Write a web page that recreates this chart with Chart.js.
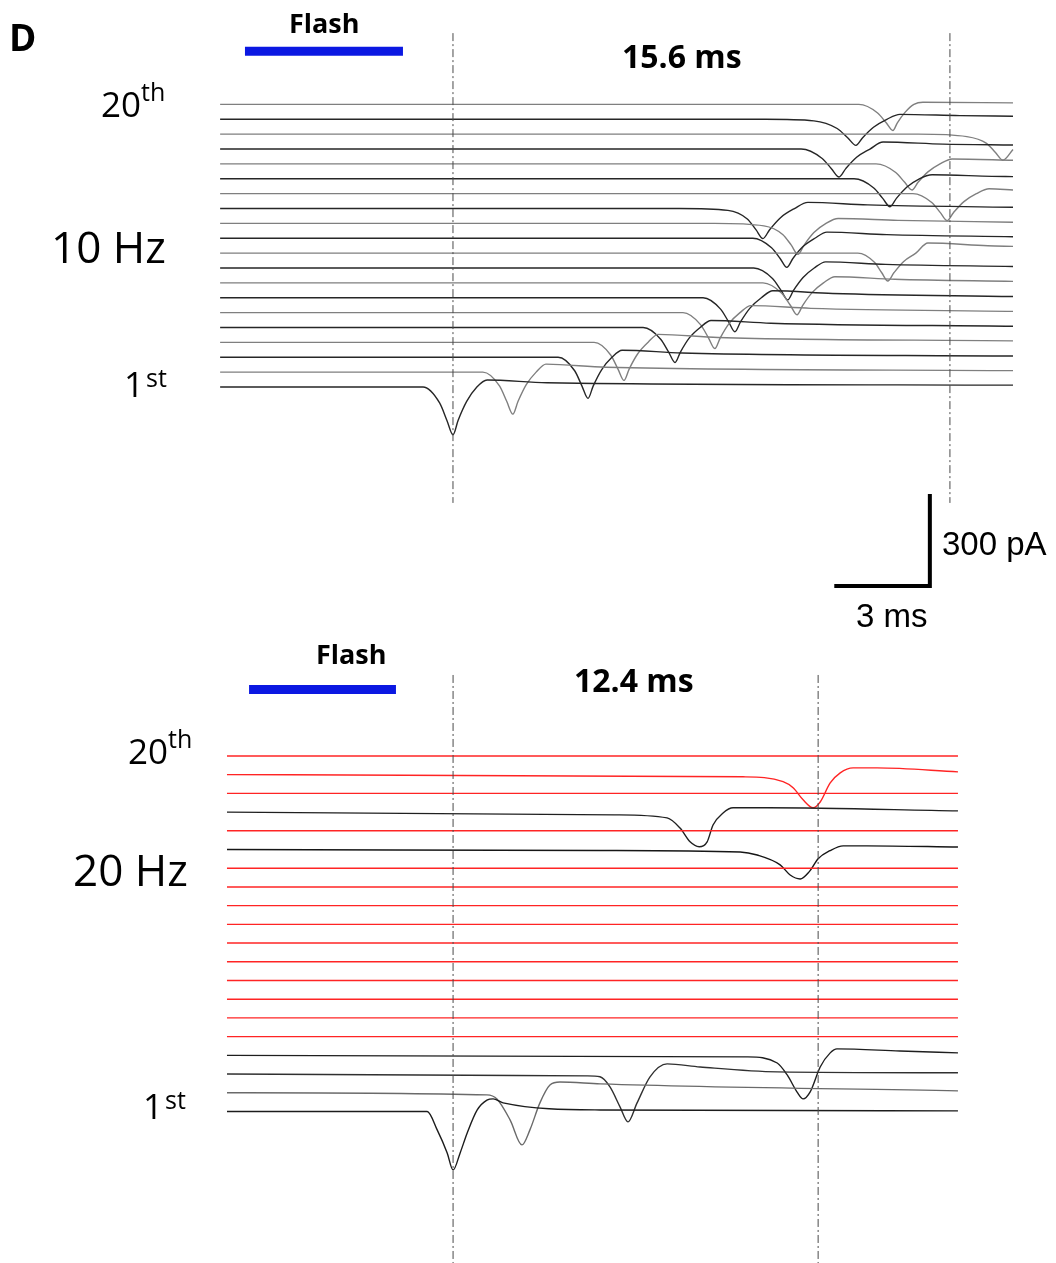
<!DOCTYPE html>
<html>
<head>
<meta charset="utf-8">
<title>Flash-evoked responses, 10 Hz and 20 Hz trains</title>
<script src="https://cdn.jsdelivr.net/npm/chart.js@4/dist/chart.umd.min.js"></script>
<style>
  html, body { margin: 0; padding: 0; background: #fff; }
  #page { position: relative; width: 1056px; height: 1263px; overflow: hidden; background: #fff; }
  #page canvas { position: absolute; left: 0; }
  .lbl { position: absolute; white-space: nowrap; line-height: 1; color: #000; }
</style>
</head>
<body>
<div id="page">
  <canvas id="train10" width="1056" height="640" style="top:0;width:1056px;height:640px"></canvas>
  <canvas id="train20" width="1056" height="623" style="top:640px;width:1056px;height:623px"></canvas>
</div>
<script>
// ---------------------------------------------------------------------------
// Data. Time in ms (0 = peak of the response to the 1st flash),
// current in pA relative to each sweep's own baseline (inward = negative).
// Sweeps are listed 1st flash first.
// ---------------------------------------------------------------------------

// 10 Hz train
const sweeps10Hz = [
  [[-7.31,0],[-0.94,0],[-0.42,-52],[-0.19,-109],[0,-156],[0.16,-109],[0.43,-47],[0.75,0],[1.07,23],[2.95,14],[17.58,6]],
  [[-7.31,0],[0.94,0],[1.46,-45],[1.69,-96],[1.88,-137],[2.04,-96],[2.30,-41],[2.61,0],[2.92,26],[4.80,16],[17.58,5]],
  [[-7.31,0],[3.30,0],[3.82,-44],[4.05,-94],[4.24,-134],[4.40,-94],[4.67,-40],[4.99,0],[5.31,23],[7.19,14],[17.58,4]],
  [[-7.31,0],[4.43,0],[4.95,-41],[5.18,-87],[5.37,-124],[5.53,-87],[5.80,-37],[6.12,0],[6.44,26],[8.32,16],[17.58,5]],
  [[-7.31,0],[5.97,0],[6.52,-38],[6.77,-80],[6.97,-114],[7.14,-80],[7.42,-34],[7.76,0],[8.10,23],[9.98,14],[17.58,4]],
  [[-7.31,0],[7.22,0],[7.77,-39],[8.02,-82],[8.22,-117],[8.39,-82],[8.67,-35],[9.01,0],[9.35,23],[11.23,14],[17.58,4]],
  [[-7.31,0],[7.85,0],[8.40,-37],[8.65,-78],[8.85,-111],[9.03,-78],[9.33,-33],[9.68,0],[10.04,23],[11.92,14],[17.58,4]],
  [[-7.31,0],[9.73,0],[10.32,-34],[10.59,-73],[10.80,-104],[10.98,-73],[11.28,-31],[11.63,0],[11.99,20],[13.87,12],[17.58,5]],
  [[-7.31,0],[9.44,0],[10.03,-34],[10.30,-73],[10.51,-104],[10.69,-73],[10.99,-31],[11.34,0],[11.70,20],[13.58,12],[17.58,5]],
  [[-7.31,0],[12.71,0],[13.23,-30],[13.46,-64],[13.65,-91],[13.84,-64],[14.15,-27],[14.53,0],[14.91,33],[16.79,24],[17.58,22]],
  [[-7.31,0],[9.41,0],[10.00,-31],[10.27,-66],[10.48,-95],[10.67,-66],[10.98,-28],[11.36,0],[11.74,20],[13.62,12],[17.58,5]],
  [[-7.31,0],[8.20,0],[9.76,-8],[10.35,-36],[10.62,-71],[10.83,-101],[11.02,-71],[11.33,-30],[11.71,0],[12.09,16],[13.97,10],[17.58,4]],
  [[-7.31,0],[7.10,0],[8.63,-6],[9.24,-34],[9.51,-69],[9.73,-98],[9.94,-69],[10.29,-29],[10.72,0],[11.14,20],[13.02,12],[17.58,4]],
  [[-7.31,0],[14.44,0],[15.03,-29],[15.30,-62],[15.51,-88],[15.71,-62],[16.04,-26],[16.43,0],[16.83,16],[17.58,12]],
  [[-7.31,0],[12.59,0],[13.21,-30],[13.49,-64],[13.72,-91],[13.92,-64],[14.25,-27],[14.64,0],[15.04,13],[16.92,8],[17.58,7]],
  [[-7.31,0],[13.28,0],[13.90,-28],[14.18,-60],[14.41,-85],[14.60,-60],[14.91,-26],[15.29,0],[15.67,16],[17.58,12]],
  [[-7.31,0],[10.93,0],[11.58,-30],[11.88,-64],[12.12,-91],[12.33,-64],[12.67,-27],[13.09,0],[13.50,23],[15.38,16],[17.58,13]],
  [[-7.31,0],[14.60,0],[16.13,-8],[16.75,-30],[17.03,-60],[17.26,-85],[17.58,-50]],
  [[-7.31,0],[9.80,0],[11.33,-5],[12.06,-30],[12.39,-60],[12.65,-85],[12.86,-60],[13.20,-26],[13.62,0],[14.03,16],[15.91,12],[17.58,10]],
  [[-7.31,0],[12.74,0],[13.33,-28],[13.60,-60],[13.81,-85],[13.95,-60],[14.19,-26],[14.47,0],[14.75,7],[17.58,5]]
];

// 20 Hz train
const sweeps20Hz = [
  [[-7.68,0],[-0.88,0],[-0.54,-60],[-0.20,-135],[0,-191],[0.24,-135],[0.48,-70],[0.82,5],[1.15,37],[1.36,41],[1.70,28],[5.00,5],[17.15,2]],
  [[-7.68,0],[1.15,-7],[1.49,-20],[1.94,-89],[2.34,-170],[2.61,-121],[2.95,-33],[3.29,25],[3.63,35],[5.00,29],[17.15,6]],
  [[-7.68,0],[4.55,-6],[4.99,-9],[5.33,-42],[5.67,-107],[5.94,-156],[6.25,-94],[6.69,-9],[7.27,33],[8.39,23],[11.01,7],[17.15,4]],
  [[-7.68,0],[9.99,-5],[11.01,-25],[11.35,-64],[11.68,-119],[11.89,-142],[12.13,-119],[12.47,-38],[12.81,8],[13.04,21],[15.18,14],[17.15,8]],
  [[-7.68,0],[17.15,0]],
  [[-7.68,0],[17.15,0]],
  [[-7.68,0],[17.15,0]],
  [[-7.68,0],[17.15,0]],
  [[-7.68,0],[17.15,0]],
  [[-7.68,0],[17.15,0]],
  [[-7.68,0],[17.15,0]],
  [[-7.68,0],[17.15,0]],
  [[-7.68,0],[17.15,0]],
  [[-7.68,0],[17.15,0]],
  [[-7.68,0],[5.00,-3],[9.75,-8],[10.33,-18],[11.11,-50],[11.45,-83],[11.79,-96],[12.10,-72],[12.40,-30],[12.80,-4],[13.25,12],[14.06,12],[17.15,8]],
  [[-7.68,0],[17.15,0]],
  [[-7.68,0],[5.50,-9],[7.27,-19],[7.71,-52],[8.05,-97],[8.36,-113],[8.63,-97],[8.83,-42],[9.17,-3],[9.51,14],[10.67,14],[17.15,4]],
  [[-7.68,0],[17.15,0]],
  [[-7.68,0],[9.85,-7],[11.21,-23],[11.55,-43],[11.89,-82],[12.23,-108],[12.47,-89],[12.81,-27],[13.15,6],[13.59,22],[14.40,22],[17.15,9]],
  [[-7.68,0],[17.15,0]]
];

// Latency spread between the 1st and the last response (ms)
const latencySpread10Hz = 15.6;
const latencySpread20Hz = 12.4;

// Flash (light pulse) window, ms
const flash10Hz = [-6.53, -1.57];
const flash20Hz = [-6.93, -1.94];

// Scale bar
const scaleBarMs = 3;
const scaleBarPA = 300;

// ---------------------------------------------------------------------------
// Layout and styling
// ---------------------------------------------------------------------------
const STEP_10HZ = 48.5;   // vertical stacking between sweeps, pA
const STEP_20HZ = 61;
const AXES_10HZ = { x: [-14.22, 18.93], y: [-825, 1262] };
const AXES_20HZ = { x: [-15.39, 20.48], y: [-494, 1537] };
const FLASH_Y_10HZ = 1095, FLASH_Y_20HZ = 1376;
const MARKER_Y_10HZ = [1154, -378], MARKER_Y_20HZ = [1423, -494];
const SCALE_CORNER = { t: 14.97, pA: -649 };

const DARK = '#262626', GREY = '#7f7f7f', RED = '#ff2424', BLUE = '#0b18e2';
const colors10Hz = sweeps10Hz.map((_, i) => (i % 2 === 0 ? DARK : GREY));
const colors20Hz = ['#1c1c1c', '#6a6a6a', '#303030', '#1e1e1e',
  RED, RED, RED, RED, RED, RED, RED, RED, RED, RED,
  '#161616', RED, '#202020', RED, RED, RED];

function sweepSets(sweeps, step, colors) {
  return sweeps.map((pts, i) => ({
    data: pts.map(([t, pA]) => ({ x: t, y: pA + i * step })),
    borderColor: colors[i],
    borderWidth: 1.4,
    showLine: true,
    pointRadius: 0,
    cubicInterpolationMode: 'monotone'
  }));
}

function markerSets(spread, yr) {
  return [0, spread].map(t => ({
    data: [{ x: t, y: yr[0] }, { x: t, y: yr[1] }],
    borderColor: '#4a4a4a',
    borderWidth: 1,
    borderDash: [8, 3, 2, 3],
    showLine: true,
    pointRadius: 0
  }));
}

function flashSet(win, y) {
  return {
    data: [{ x: win[0], y: y }, { x: win[1], y: y }],
    borderColor: BLUE,
    borderWidth: 9,
    borderCapStyle: 'butt',
    showLine: true,
    pointRadius: 0
  };
}

function baseOptions(axes) {
  return {
    responsive: false,
    animation: false,
    devicePixelRatio: 1,
    events: [],
    layout: { padding: 0 },
    plugins: { legend: { display: false }, tooltip: { enabled: false } },
    scales: {
      x: { type: 'linear', min: axes.x[0], max: axes.x[1], display: false },
      y: { type: 'linear', min: axes.y[0], max: axes.y[1], display: false }
    }
  };
}

// 10 Hz panel, with the scale bar
new Chart(document.getElementById('train10'), {
  type: 'scatter',
  data: {
    datasets: [
      ...markerSets(latencySpread10Hz, MARKER_Y_10HZ),
      flashSet(flash10Hz, FLASH_Y_10HZ),
      ...sweepSets(sweeps10Hz, STEP_10HZ, colors10Hz),
      {
        data: [
          { x: SCALE_CORNER.t - scaleBarMs, y: SCALE_CORNER.pA },
          { x: SCALE_CORNER.t, y: SCALE_CORNER.pA },
          { x: SCALE_CORNER.t, y: SCALE_CORNER.pA + scaleBarPA }
        ],
        borderColor: '#000',
        borderWidth: 4,
        borderJoinStyle: 'miter',
        borderCapStyle: 'butt',
        showLine: true,
        pointRadius: 0
      }
    ]
  },
  options: baseOptions(AXES_10HZ)
});

// 20 Hz panel
new Chart(document.getElementById('train20'), {
  type: 'scatter',
  data: {
    datasets: [
      ...markerSets(latencySpread20Hz, MARKER_Y_20HZ),
      flashSet(flash20Hz, FLASH_Y_20HZ),
      ...sweepSets(sweeps20Hz, STEP_20HZ, colors20Hz)
    ]
  },
  options: baseOptions(AXES_20HZ)
});

// ---------------------------------------------------------------------------
// Text labels, placed by their baseline
// ---------------------------------------------------------------------------
const page = document.getElementById('page');
function label(text, x, baseline, font) {
  const el = document.createElement('div');
  el.className = 'lbl';
  el.style.font = font;
  el.style.left = x + 'px';
  el.style.top = '0px';
  el.appendChild(document.createTextNode(text));
  const mark = document.createElement('span');
  mark.style.cssText = 'display:inline-block;width:0;height:0;vertical-align:baseline';
  el.appendChild(mark);
  page.appendChild(el);
  el.style.top = (baseline - mark.offsetTop) + 'px';
}

const BOLD = '700 {s}px "Open Sans", sans-serif';
const REG = '400 {s}px "Open Sans", sans-serif';
const ARIAL = '400 {s}px "Liberation Sans", Arial, sans-serif';
const f = (tpl, s) => tpl.replace('{s}', s);

label('D', 9, 51, f(BOLD, 37));
label('Flash', 289, 33, f(BOLD, 27));
label(latencySpread10Hz.toFixed(1) + ' ms', 622, 68, f(BOLD, 32));
label('20', 101, 117, f(REG, 35));
label('th', 141, 101, f(REG, 25));
label('10 Hz', 51, 263, f(REG, 44));
label('1', 124, 397, f(REG, 35));
label('st', 146, 387, f(REG, 25));
label(scaleBarPA + ' pA', 942, 555, f(ARIAL, 33));
label(scaleBarMs + ' ms', 856, 627, f(ARIAL, 33));

label('Flash', 316, 664, f(BOLD, 27));
label(latencySpread20Hz.toFixed(1) + ' ms', 574, 692, f(BOLD, 32));
label('20', 128, 764, f(REG, 35));
label('th', 168, 748, f(REG, 25));
label('20 Hz', 73, 886, f(REG, 44));
label('1', 143, 1119, f(REG, 35));
label('st', 165, 1109, f(REG, 25));
</script>
</body>
</html>
